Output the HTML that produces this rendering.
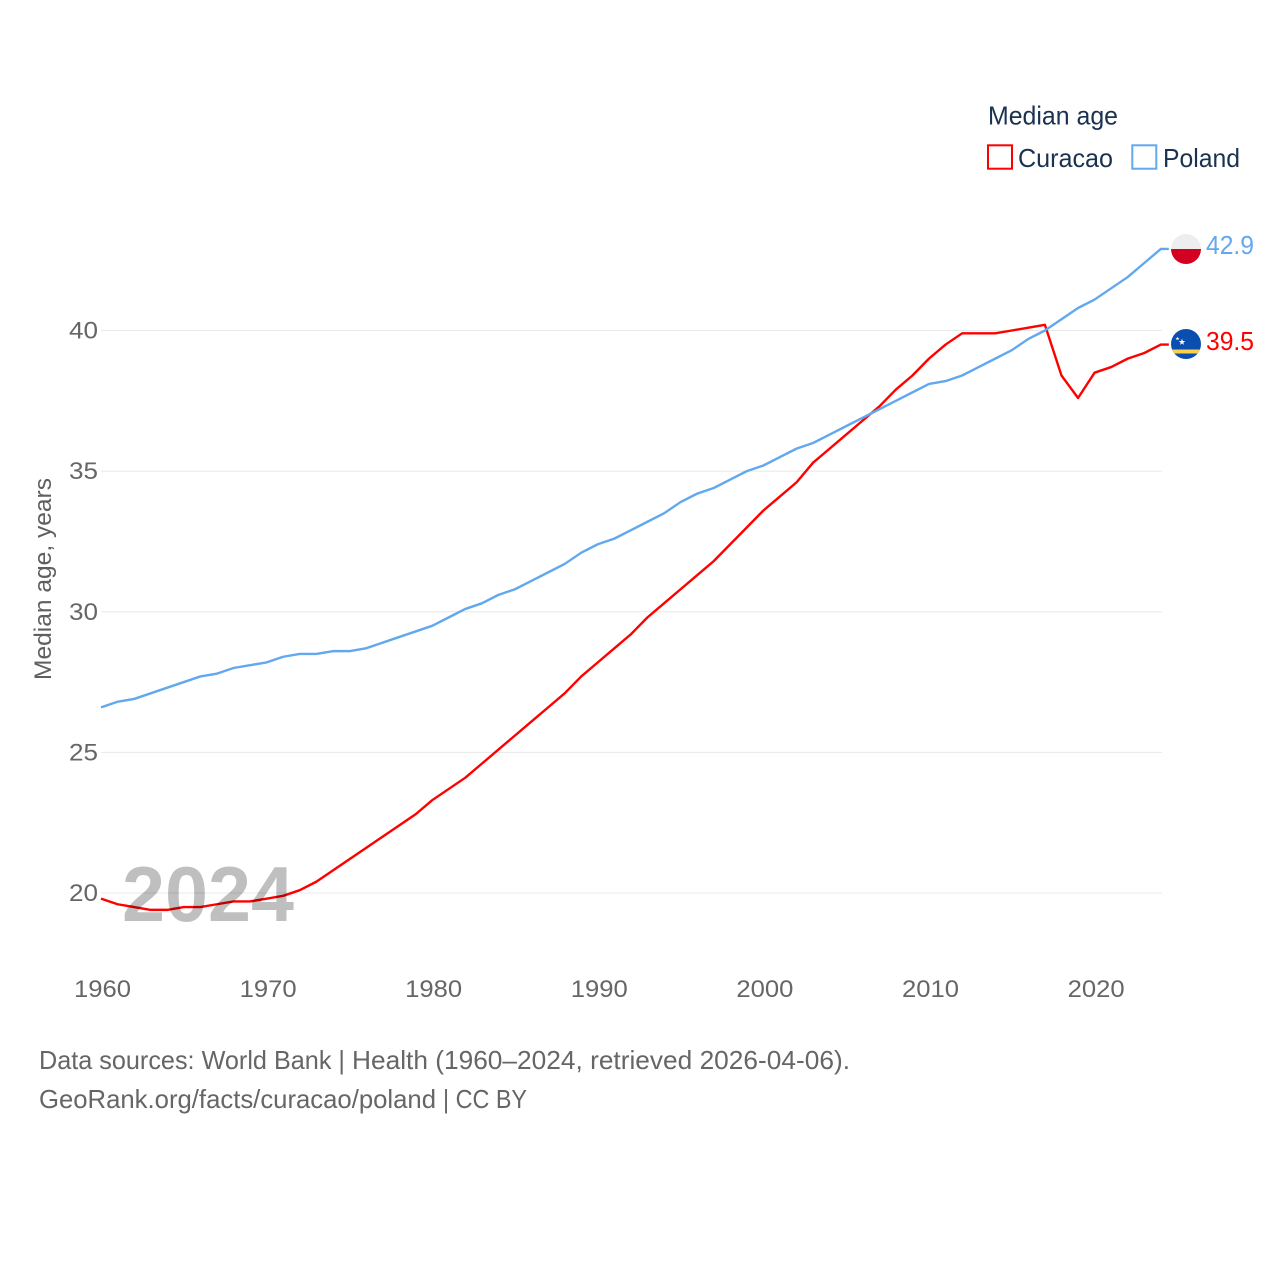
<!DOCTYPE html>
<html lang="en">
<head>
<meta charset="utf-8">
<title>Median age: Curacao and Poland</title>
<style>
html,body{margin:0;padding:0;background:#fff;width:1280px;height:1280px;overflow:hidden}
svg{display:block;font-family:"Liberation Sans",sans-serif}
</style>
</head>
<body>
<svg id="chart" xmlns="http://www.w3.org/2000/svg" width="1280" height="1280" viewBox="0 0 1280 1280">
  <g id="grid"></g>
  <g id="yticks"></g>
  <g id="xticks"></g>
  <text transform="translate(51,579) rotate(-90)" text-anchor="middle" font-size="24" fill="#5f5f5f" textLength="202" lengthAdjust="spacingAndGlyphs">Median age, years</text>
  <g id="series"></g>
  <text x="122" y="921" font-size="78" font-weight="bold" fill="#000" fill-opacity="0.25" textLength="172" lengthAdjust="spacingAndGlyphs">2024</text>

  <g>
    <text x="988" y="124.5" font-size="26" fill="#1a3250" textLength="130" lengthAdjust="spacingAndGlyphs">Median age</text>
    <rect x="988" y="145.3" width="24" height="23.4" fill="none" stroke="#ff0000" stroke-width="2"/>
    <text x="1018" y="167" font-size="26" fill="#1a3250" textLength="95" lengthAdjust="spacingAndGlyphs">Curacao</text>
    <rect x="1132.3" y="145.3" width="24" height="23.4" fill="none" stroke="#62a8ee" stroke-width="2"/>
    <text x="1163" y="167" font-size="26" fill="#1a3250" textLength="77" lengthAdjust="spacingAndGlyphs">Poland</text>
  </g>

  <defs>
    <clipPath id="clip-pl"><circle cx="1186" cy="249" r="15"/></clipPath>
    <clipPath id="clip-cw"><circle cx="1186" cy="344" r="15"/></clipPath>
  </defs>
  <g id="flag-poland" clip-path="url(#clip-pl)">
    <rect x="1171" y="234" width="30" height="15" fill="#eeeeee"/>
    <rect x="1171" y="249" width="30" height="15" fill="#d40022"/>
  </g>
  <g id="flag-curacao" clip-path="url(#clip-cw)">
    <rect x="1171" y="329" width="30" height="30" fill="#0a4fb0"/>
    <rect x="1171" y="349.5" width="30" height="4" fill="#f9d14a"/>
    <polygon points="1182,338.6 1182.8,341 1185.3,341 1183.3,342.5 1184,344.9 1182,343.4 1180,344.9 1180.7,342.5 1178.7,341 1181.2,341" fill="#ffffff"/>
    <polygon points="1177.5,336.6 1178,338 1179.5,338 1178.3,338.9 1178.7,340.3 1177.5,339.4 1176.3,340.3 1176.7,338.9 1175.5,338 1177,338" fill="#ffffff"/>
  </g>
  <text x="1206" y="254" font-size="26" fill="#62a8ee" textLength="48" lengthAdjust="spacingAndGlyphs">42.9</text>
  <text x="1206" y="350" font-size="26" fill="#ff0000" textLength="48" lengthAdjust="spacingAndGlyphs">39.5</text>

  <text x="39" y="1069" font-size="26" fill="#666666" textLength="306" lengthAdjust="spacingAndGlyphs">Data sources: World Bank |</text>
  <text x="352" y="1069" font-size="26" fill="#666666" textLength="498" lengthAdjust="spacingAndGlyphs">Health (1960–2024, retrieved 2026-04-06).</text>
  <text x="39" y="1108" font-size="26" fill="#666666" textLength="397" lengthAdjust="spacingAndGlyphs">GeoRank.org/facts/curacao/poland</text>
  <text x="443" y="1108" font-size="26" fill="#666666" textLength="84" lengthAdjust="spacingAndGlyphs">| CC BY</text>
</svg>
<script>
const years = [1960,1961,1962,1963,1964,1965,1966,1967,1968,1969,1970,1971,1972,1973,1974,1975,1976,1977,1978,1979,1980,1981,1982,1983,1984,1985,1986,1987,1988,1989,1990,1991,1992,1993,1994,1995,1996,1997,1998,1999,2000,2001,2002,2003,2004,2005,2006,2007,2008,2009,2010,2011,2012,2013,2014,2015,2016,2017,2018,2019,2020,2021,2022,2023,2024];
const polandValues = [26.6,26.8,26.9,27.1,27.3,27.5,27.7,27.8,28.0,28.1,28.2,28.4,28.5,28.5,28.6,28.6,28.7,28.9,29.1,29.3,29.5,29.8,30.1,30.3,30.6,30.8,31.1,31.4,31.7,32.1,32.4,32.6,32.9,33.2,33.5,33.9,34.2,34.4,34.7,35.0,35.2,35.5,35.8,36.0,36.3,36.6,36.9,37.2,37.5,37.8,38.1,38.2,38.4,38.7,39.0,39.3,39.7,40.0,40.4,40.8,41.1,41.5,41.9,42.4,42.9];
const curacaoValues = [19.8,19.6,19.5,19.4,19.4,19.5,19.5,19.6,19.7,19.7,19.8,19.9,20.1,20.4,20.8,21.2,21.6,22.0,22.4,22.8,23.3,23.7,24.1,24.6,25.1,25.6,26.1,26.6,27.1,27.7,28.2,28.7,29.2,29.8,30.3,30.8,31.3,31.8,32.4,33.0,33.6,34.1,34.6,35.3,35.8,36.3,36.8,37.3,37.9,38.4,39.0,39.5,39.9,39.9,39.9,40.0,40.1,40.2,38.4,37.6,38.5,38.7,39.0,39.2,39.5];
const yTickValues = [20,25,30,35,40];
const xTickValues = [1960,1970,1980,1990,2000,2010,2020];

function xScale(year){ return 101 + (year - 1960) * 16.56; }
function yScale(v){ return 893 - (v - 20) * (893 - 330.5) / 20; }

const NS = 'http://www.w3.org/2000/svg';
const gridG = document.getElementById('grid');
const yG = document.getElementById('yticks');
const xG = document.getElementById('xticks');
const seriesG = document.getElementById('series');

yTickValues.forEach(function(v){
  const line = document.createElementNS(NS, 'line');
  
  
  line.setAttribute('x1', xScale(1960));
  line.setAttribute('x2', xScale(2024) + 1);
  line.setAttribute('y1', yScale(v));
  line.setAttribute('y2', yScale(v));
  line.setAttribute('stroke', '#e8e8e8');
  line.setAttribute('stroke-width', '1');
  gridG.appendChild(line);

  const t = document.createElementNS(NS, 'text');
  
  
  t.setAttribute('x', 98);
  t.setAttribute('y', yScale(v) + 8);
  t.setAttribute('text-anchor', 'end');
  t.setAttribute('font-size', '24');
  t.setAttribute('fill', '#666666');
  t.setAttribute('textLength', '29');
  t.setAttribute('lengthAdjust', 'spacingAndGlyphs');
  t.textContent = String(v);
  yG.appendChild(t);
});

xTickValues.forEach(function(y){
  const t = document.createElementNS(NS, 'text');
  
  
  t.setAttribute('x', xScale(y) + 1.5);
  t.setAttribute('y', 997);
  t.setAttribute('text-anchor', 'middle');
  t.setAttribute('font-size', '24');
  t.setAttribute('fill', '#666666');
  t.setAttribute('textLength', '57');
  t.setAttribute('lengthAdjust', 'spacingAndGlyphs');
  t.textContent = String(y);
  xG.appendChild(t);
});

function linePoints(values){
  const pts = values.map(function(v, i){ return xScale(years[i]).toFixed(2) + ',' + yScale(v).toFixed(2); });
  const last = values[values.length - 1];
  pts.push((xScale(years[years.length - 1]) + 8).toFixed(2) + ',' + yScale(last).toFixed(2));
  return pts.join(' ');
}

const polandLine = document.createElementNS(NS, 'polyline');


polandLine.setAttribute('points', linePoints(polandValues));
polandLine.setAttribute('fill', 'none');
polandLine.setAttribute('stroke', '#62a8ee');
polandLine.setAttribute('stroke-width', '2.4');
polandLine.setAttribute('stroke-linejoin', 'round');
seriesG.appendChild(polandLine);

const curacaoLine = document.createElementNS(NS, 'polyline');


curacaoLine.setAttribute('points', linePoints(curacaoValues));
curacaoLine.setAttribute('fill', 'none');
curacaoLine.setAttribute('stroke', '#ff0000');
curacaoLine.setAttribute('stroke-width', '2.4');
curacaoLine.setAttribute('stroke-linejoin', 'round');
seriesG.insertBefore(curacaoLine, polandLine);
</script>
</body>
</html>
